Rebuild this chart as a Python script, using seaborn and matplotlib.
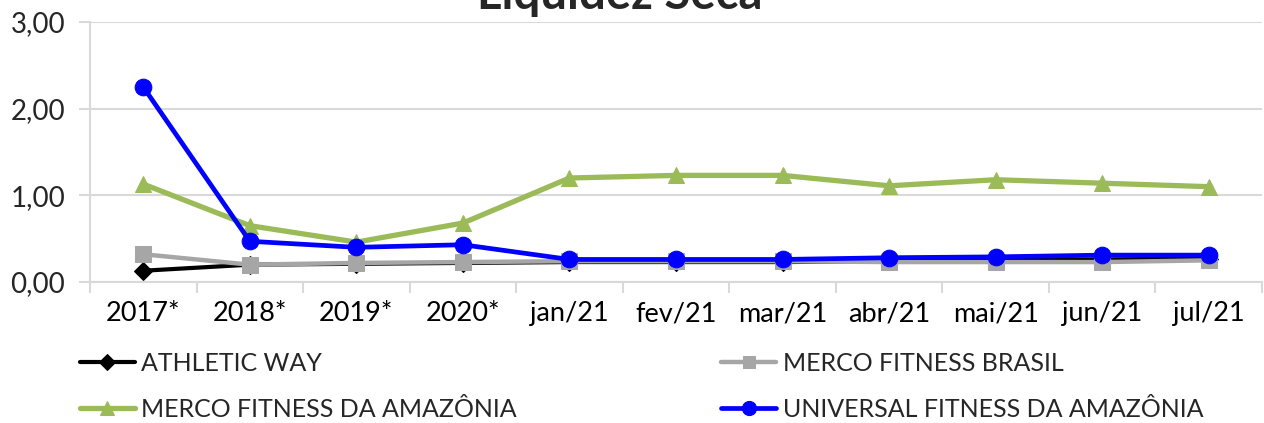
import matplotlib
matplotlib.use("Agg")
import matplotlib.pyplot as plt
import pandas as pd
import seaborn as sns
from matplotlib.ticker import FixedLocator, FuncFormatter

categories = ["2017*", "2018*", "2019*", "2020*", "jan/21", "fev/21", "mar/21",
              "abr/21", "mai/21", "jun/21", "jul/21"]

athletic_way = [0.13, 0.20, 0.21, 0.22, 0.23, 0.23, 0.23, 0.24, 0.25, 0.26, 0.27]
merco_brasil = [0.32, 0.20, 0.22, 0.23, 0.24, 0.24, 0.24, 0.23, 0.23, 0.23, 0.25]
merco_amazonia = [1.13, 0.65, 0.46, 0.68, 1.20, 1.23, 1.23, 1.11, 1.18, 1.14, 1.10]
universal_amazonia = [2.25, 0.47, 0.40, 0.43, 0.26, 0.26, 0.26, 0.28, 0.29, 0.31, 0.31]

series_names = ["ATHLETIC WAY", "MERCO FITNESS BRASIL",
                "MERCO FITNESS DA AMAZÔNIA", "UNIVERSAL FITNESS DA AMAZÔNIA"]
series_values = [athletic_way, merco_brasil, merco_amazonia, universal_amazonia]

styles = {
    "ATHLETIC WAY": dict(color="#000000", marker="D", ms=9, lw=3.0),
    "MERCO FITNESS BRASIL": dict(color="#A6A6A6", marker="s", ms=11, lw=3.2),
    "MERCO FITNESS DA AMAZÔNIA": dict(color="#9BBB59", marker="^", ms=12, lw=3.8),
    "UNIVERSAL FITNESS DA AMAZÔNIA": dict(color="#0000FF", marker="o", ms=12, lw=3.4),
}

df = pd.DataFrame(
    [(name, cat, v) for name, vals in zip(series_names, series_values)
     for cat, v in zip(categories, vals)],
    columns=["serie", "periodo", "valor"],
)

sns.set_theme(style="white")
plt.rcParams["font.family"] = ["Lato", "DejaVu Sans"]

fig = plt.figure(figsize=(12.64, 4.23), dpi=100)
ax = fig.add_axes([90 / 1264, 1 - 282 / 423, 1172 / 1264, 260 / 423])

for name in series_names:
    st = styles[name]
    sns.lineplot(data=df[df["serie"] == name], x="periodo", y="valor", ax=ax,
                 color=st["color"], marker=st["marker"], markersize=st["ms"],
                 markeredgecolor=st["color"], linewidth=st["lw"], label=name,
                 sort=False, legend=False)

ax.set_xlim(-0.5, len(categories) - 0.5)
ax.set_ylim(0, 3)
ax.set_xlabel("")
ax.set_ylabel("")

grid_c = "#D9D9D9"
ax.yaxis.set_major_locator(FixedLocator([0, 1, 2, 3]))
ax.yaxis.set_major_formatter(FuncFormatter(lambda v, p: f"{v:.2f}".replace(".", ",")))
ax.grid(axis="y", color=grid_c, linewidth=1.5)
ax.set_axisbelow(True)

ax.xaxis.set_major_locator(FixedLocator([i - 0.5 for i in range(len(categories) + 1)]))
ax.xaxis.set_major_formatter(FuncFormatter(lambda v, p: ""))
ax.xaxis.set_minor_locator(FixedLocator(list(range(len(categories)))))
ax.set_xticklabels(categories, minor=True)
ax.tick_params(axis="x", which="major", length=8, width=1.5, color=grid_c, direction="out", bottom=True)
ax.tick_params(axis="x", which="minor", length=0, pad=14, labelsize=19.5, colors="black")
ax.tick_params(axis="y", which="major", length=8, width=1.5, color=grid_c, direction="out", left=True,
               labelsize=20, pad=10)

for side in ["top", "right"]:
    ax.spines[side].set_visible(False)
for side in ["left", "bottom"]:
    ax.spines[side].set_color(grid_c)
    ax.spines[side].set_linewidth(1.5)

handles, labels = ax.get_legend_handles_labels()
order = [0, 2, 1, 3]
fig.legend([handles[i] for i in order], [labels[i] for i in order],
           loc="upper left", bbox_to_anchor=(0.055, 0.192), ncol=2, frameon=False,
           fontsize=18, handlelength=2.2, handletextpad=0.25, columnspacing=8.2,
           labelspacing=0.92, borderaxespad=0, markerscale=0.85)

fig.text(0.49, 0.978, "Liquidez Seca", ha="center", va="baseline",
         fontsize=34, fontweight="bold")

fig.savefig("out.png", dpi=100)
